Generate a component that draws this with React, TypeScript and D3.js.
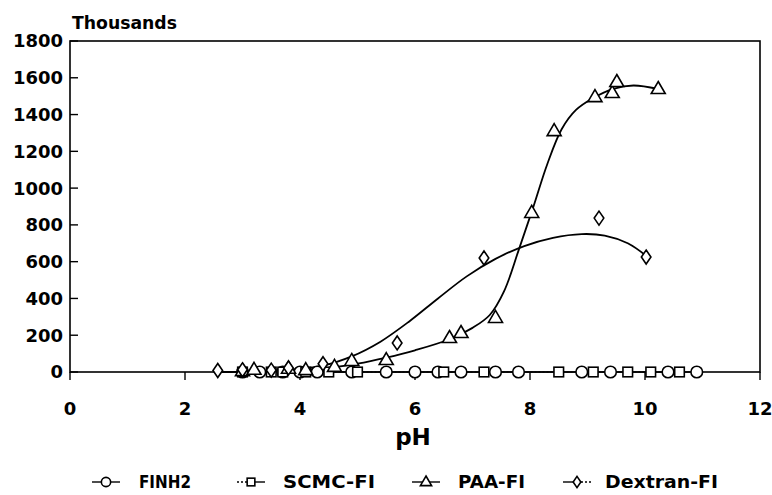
import React from "react";
import * as d3 from "d3";

// ---- data (pH, value in thousands) ----
const finh2: [number, number][] = [
  [3.0, 0], [3.3, 0], [3.7, 0], [4.0, 0], [4.3, 0], [4.9, 0], [5.5, 0], [6.0, 0],
  [6.4, 0], [6.8, 0], [7.4, 0], [7.8, 0], [8.9, 0], [9.4, 0], [10.4, 0], [10.9, 0],
];
const scmc: [number, number][] = [
  [3.0, 0], [3.5, 0], [3.7, 0], [4.1, 0], [4.5, 0], [5.0, 0], [6.5, 0], [7.2, 0],
  [8.5, 0], [9.1, 0], [9.7, 0], [10.1, 0], [10.6, 0],
];
const paa: [number, number][] = [
  [3.0, 5], [3.2, 12], [3.8, 18], [4.1, 10], [4.6, 28], [4.9, 60], [5.5, 65],
  [6.6, 185], [6.8, 212], [7.4, 294], [8.03, 865], [8.42, 1310], [9.13, 1495],
  [9.43, 1517], [9.51, 1577], [10.23, 1539],
];
const dextran: [number, number][] = [
  [2.57, 8], [3.0, 12], [3.5, 10], [3.8, 22], [4.4, 45], [5.69, 158],
  [7.2, 620], [9.2, 837], [10.02, 625],
];
// fitted curves
const paaFit: [number, number][] = [
  [3.0, 2], [4.0, 10], [4.5, 22], [5.0, 45], [5.5, 78], [6.0, 118], [6.6, 178],
  [7.0, 240], [7.3, 310], [7.55, 440], [7.8, 660], [8.05, 890], [8.3, 1130],
  [8.55, 1320], [8.8, 1425], [9.1, 1490], [9.45, 1540], [9.8, 1558], [10.23, 1539],
];
const dextranFit: [number, number][] = [
  [2.6, 0], [3.5, 6], [4.4, 35], [4.9, 85], [5.4, 165], [5.9, 275], [6.4, 400],
  [6.9, 520], [7.4, 615], [7.9, 685], [8.4, 730], [8.9, 750], [9.3, 742],
  [9.7, 700], [10.02, 632],
];

const xTicks = [0, 2, 4, 6, 8, 10, 12];
const yTicks = [0, 200, 400, 600, 800, 1000, 1200, 1400, 1600, 1800];
const legendNames = ["FINH2", "SCMC-FI", "PAA-FI", "Dextran-FI"];

const W = 772;
const H = 495;
const FONT = "'DejaVu Sans', sans-serif";

type Shape = "circle" | "square" | "triangle" | "diamond";

function Marker({ shape, cx, cy, k = 1 }: { shape: Shape; cx: number; cy: number; k?: number }) {
  const common = { fill: "#fff", stroke: "#000", strokeWidth: 1.6 };
  if (shape === "circle") return <circle cx={cx} cy={cy} r={5.8 * k} {...common} />;
  if (shape === "square") return <rect x={cx - 4.8 * k} y={cy - 4.8 * k} width={9.6 * k} height={9.6 * k} {...common} />;
  if (shape === "triangle")
    return (
      <path
        d={`M${cx},${cy - 7.5 * k} L${cx + 7 * k},${cy + 4.5 * k} L${cx - 7 * k},${cy + 4.5 * k} Z`}
        {...common}
      />
    );
  return (
    <path
      d={`M${cx},${cy - 7 * k} L${cx + 4.8 * k},${cy} L${cx},${cy + 7 * k} L${cx - 4.8 * k},${cy} Z`}
      {...common}
    />
  );
}

export default function App() {
  const x = d3.scaleLinear().domain([0, 12]).range([70, 760]);
  const y = d3.scaleLinear().domain([0, 1800]).range([372, 41]);

  const smooth = d3
    .line<[number, number]>()
    .x((d) => x(d[0]))
    .y((d) => y(d[1]))
    .curve(d3.curveCatmullRom.alpha(0.5));
  const straight = d3
    .line<[number, number]>()
    .x((d) => x(d[0]))
    .y((d) => y(d[1]));

  const series: { name: string; shape: Shape; pts: [number, number][] }[] = [
    { name: legendNames[0], shape: "circle", pts: finh2 },
    { name: legendNames[1], shape: "square", pts: scmc },
    { name: legendNames[2], shape: "triangle", pts: paa },
    { name: legendNames[3], shape: "diamond", pts: dextran },
  ];

  const legendX = [92, 237, 412, 563];
  const legendTextX = [139, 283, 458, 605];
  const legendTextW = [52, 92, 67, 113];
  const ly = 482;

  return (
    <svg
      width={W}
      height={H}
      style={{ position: "absolute", left: 0, top: 0, background: "#fff" }}
      fontFamily={FONT}
    >
      <rect x={0} y={0} width={W} height={H} fill="#fff" />
      {/* frame */}
      <rect x={x(0)} y={y(1800)} width={x(12) - x(0)} height={y(0) - y(1800)} fill="none" stroke="#000" strokeWidth={1.6} />
      {/* y ticks (inward) */}
      {yTicks.map((t) => (
        <g key={"yt" + t}>
          <line x1={x(0)} x2={x(0) + 8} y1={y(t)} y2={y(t)} stroke="#000" strokeWidth={1.4} />
          <text x={63} y={y(t)} dy="0.36em" textAnchor="end" fontSize={18} fontWeight="bold">
            {t}
          </text>
        </g>
      ))}
      {/* x ticks (outward) */}
      {xTicks.map((t) => (
        <g key={"xt" + t}>
          <line x1={x(t)} x2={x(t)} y1={y(0)} y2={y(0) + 8} stroke="#000" strokeWidth={1.4} />
          <text x={x(t)} y={415} textAnchor="middle" fontSize={18} fontWeight="bold">
            {t}
          </text>
        </g>
      ))}
      <text x={72} y={29} fontSize={17} fontWeight="bold" textLength={105} lengthAdjust="spacingAndGlyphs">
        Thousands
      </text>
      <text x={413} y={445} textAnchor="middle" fontSize={23} fontWeight="bold">
        pH
      </text>

      {/* lines */}
      <path d={straight(finh2) || ""} fill="none" stroke="#000" strokeWidth={1.6} />
      <path d={straight(scmc) || ""} fill="none" stroke="#000" strokeWidth={1.2} strokeDasharray="2,2" />
      <path d={smooth(paaFit) || ""} fill="none" stroke="#000" strokeWidth={1.8} />
      <path d={smooth(dextranFit) || ""} fill="none" stroke="#000" strokeWidth={1.8} />

      {/* markers */}
      {series.map((s) =>
        s.pts.map((p, i) => <Marker key={s.name + i} shape={s.shape} cx={x(p[0])} cy={y(p[1])} />)
      )}

      {/* legend */}
      {series.map((s, i) => {
        const x0 = legendX[i];
        const x1 = x0 + 28;
        const mid = (x0 + x1) / 2;
        return (
          <g key={"lg" + i}>
            <line
              x1={x0}
              x2={mid}
              y1={ly}
              y2={ly}
              stroke="#000"
              strokeWidth={1.4}
              strokeDasharray={i === 1 ? "2,2" : undefined}
            />
            <line
              x1={mid}
              x2={x1}
              y1={ly}
              y2={ly}
              stroke="#000"
              strokeWidth={1.4}
              strokeDasharray={i === 3 ? "2,2" : undefined}
            />
            <Marker shape={s.shape} cx={mid} cy={ly} k={0.8} />
            <text
              x={legendTextX[i]}
              y={ly}
              dy="0.36em"
              fontSize={18}
              fontWeight="bold"
              textLength={legendTextW[i]}
              lengthAdjust="spacingAndGlyphs"
            >
              {s.name}
            </text>
          </g>
        );
      })}
    </svg>
  );
}
